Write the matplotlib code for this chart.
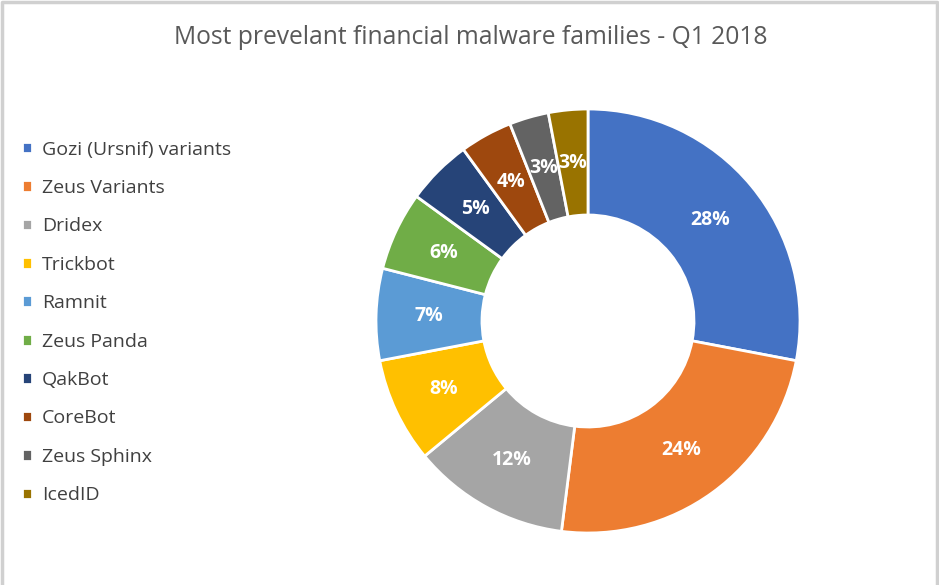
import matplotlib.pyplot as plt

families = ['Gozi (Ursnif) variants', 'Zeus Variants', 'Dridex', 'Trickbot', 'Ramnit',
            'Zeus Panda', 'QakBot', 'CoreBot', 'Zeus Sphinx', 'IcedID']
shares = [28, 24, 12, 8, 7, 6, 5, 4, 3, 3]
colors = ['#4472C4', '#ED7D31', '#A5A5A5', '#FFC000', '#5B9BD5',
          '#70AD47', '#264478', '#9E480E', '#636363', '#997300']

plt.rcParams['font.family'] = ['Open Sans', 'DejaVu Sans']

W, H = 939, 585
fig = plt.figure(figsize=(W / 100, H / 100), dpi=100)

# donut centred at (588, 321) px, radius 212 px
cx, cy, r = 588, 321, 212
ax = fig.add_axes([(cx - r) / W, (H - cy - r) / H, 2 * r / W, 2 * r / H])
wedges, texts, autotexts = ax.pie(
    shares, colors=colors, startangle=90, counterclock=False,
    autopct='%1.0f%%', pctdistance=0.75,
    wedgeprops=dict(width=0.5, edgecolor='white', linewidth=2),
    textprops=dict(color='white', fontsize=14, fontweight='bold'))
ax.set_xlim(-1, 1)
ax.set_ylim(-1, 1)
ax.set_aspect('equal')

fig.text(471 / W, 1 - 38 / H, 'Most prevelant financial malware families - Q1 2018',
         ha='center', va='center', fontsize=17.7, color='#595959')

fig.legend(wedges, families, loc='upper left', bbox_to_anchor=(4 / W, 1 - 123 / H),
           frameon=False, handlelength=0.55, handleheight=0.55, handletextpad=0.5,
           labelspacing=1.05, fontsize=14, labelcolor='#404040')

# light grey frame (open at bottom)
fig.add_artist(plt.Line2D([0.002, 0.002, 0.998, 0.998], [0, 0.996, 0.996, 0],
                          transform=fig.transFigure, color='#D0D0D0', linewidth=2.5))

fig.savefig('out.png', dpi=100)
